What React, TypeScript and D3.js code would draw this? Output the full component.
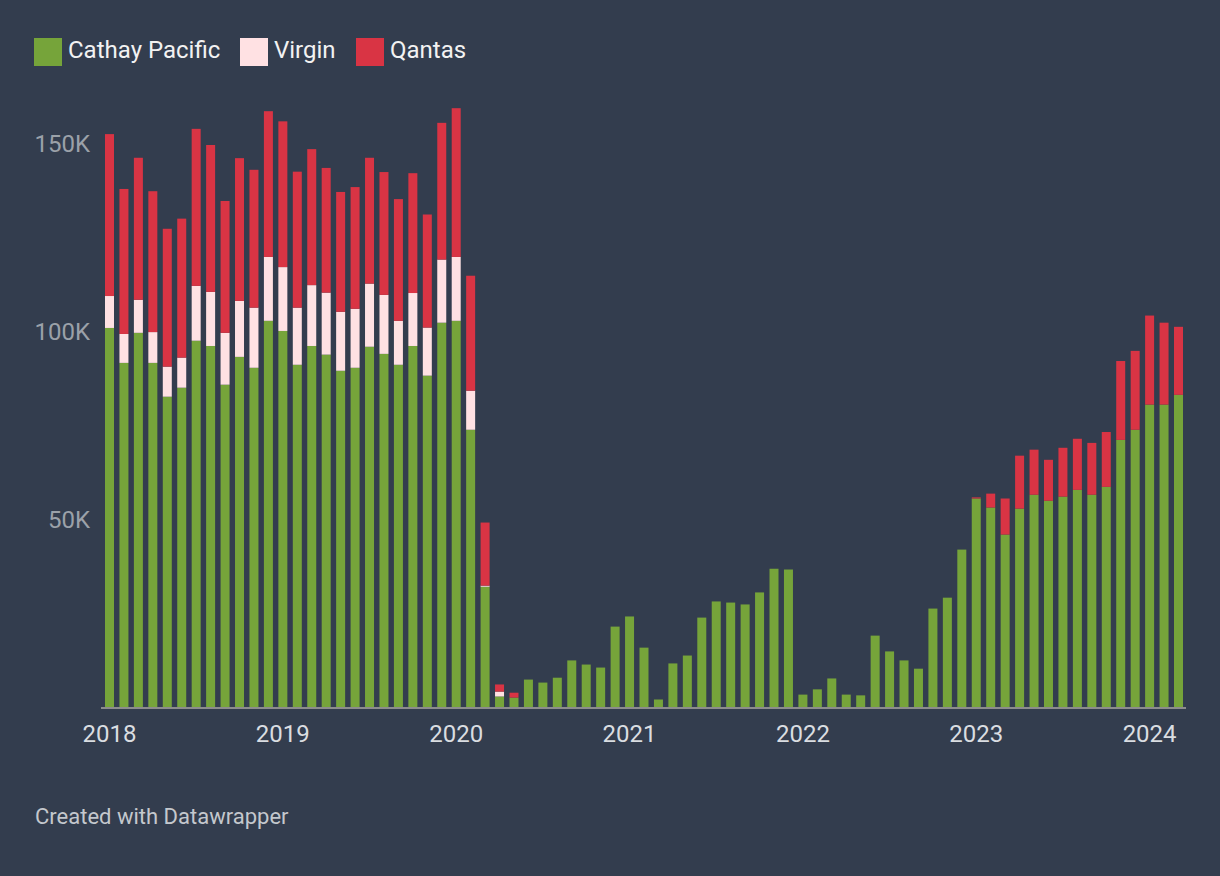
import React, { useEffect } from "react";
import * as d3 from "d3";

const months: string[] = [];
for (let y = 2018; y <= 2024; y++) {
  for (let m = 1; m <= 12; m++) {
    if (y === 2024 && m > 3) break;
    months.push(`${y}-${String(m).padStart(2, "0")}`);
  }
}

const cathay = [
  100.9, 91.6, 99.6, 91.6, 82.6, 85.0, 97.5, 96.1, 85.8, 93.2, 90.3, 102.8,
  100.1, 91.1, 96.1, 93.8, 89.5, 90.3, 95.9, 94.0, 91.1, 96.1, 88.2, 102.3,
  102.8, 73.8, 32.0, 2.8, 2.5, 7.3, 6.5, 7.8, 12.4, 11.3, 10.5, 21.4,
  24.1, 15.8, 2.0, 11.6, 13.7, 23.8, 28.1, 27.8, 27.3, 30.5, 36.8, 36.6,
  3.3, 4.7, 7.6, 3.3, 3.1, 19.0, 14.8, 12.4, 10.2, 26.2, 29.1, 41.9,
  55.5, 53.1, 45.9, 52.8, 56.5, 54.9, 56.0, 57.8, 56.5, 58.6, 71.1, 73.8,
  80.5, 80.5, 83.1,
];
const virgin = [
  8.5, 7.7, 8.8, 8.2, 8.0, 8.0, 14.6, 14.4, 13.8, 14.9, 16.0, 17.0,
  17.0, 15.2, 16.2, 16.5, 15.7, 15.7, 16.8, 15.7, 11.7, 14.1, 12.8, 16.8,
  17.0, 10.4, 0.3, 1.3, 0, 0, 0, 0, 0, 0, 0, 0,
  0, 0, 0, 0, 0, 0, 0, 0, 0, 0, 0, 0,
  0, 0, 0, 0, 0, 0, 0, 0, 0, 0, 0, 0,
  0, 0, 0, 0, 0, 0, 0, 0, 0, 0, 0, 0,
  0, 0, 0,
];
const qantas = [
  43.1, 38.6, 37.8, 37.5, 36.7, 37.0, 41.8, 39.1, 35.1, 38.0, 36.7, 38.8,
  38.8, 36.2, 36.2, 33.2, 31.9, 32.4, 33.5, 32.7, 32.4, 31.9, 30.1, 36.4,
  39.6, 30.6, 16.8, 1.9, 1.3, 0, 0, 0, 0, 0, 0, 0,
  0, 0, 0, 0, 0, 0, 0, 0, 0, 0, 0, 0,
  0, 0, 0, 0, 0, 0, 0, 0, 0, 0, 0, 0,
  0.3, 3.7, 9.6, 14.1, 12.0, 10.9, 13.0, 13.6, 13.8, 14.6, 21.0, 21.0,
  23.7, 21.8, 18.1,
];

const seriesNames = ["Cathay Pacific", "Virgin", "Qantas"];
const seriesColors = ["#76a43a", "#ffe1e3", "#d93444"];
const yTicks = [50000, 100000, 150000];
const yearLabels = ["2018", "2019", "2020", "2021", "2022", "2023", "2024"];

const W = 1220;
const H = 876;
const BG = "#333d4e";
const FONT = "Roboto, 'Noto Sans', sans-serif";

export default function App() {
  useEffect(() => {
    document.body.style.margin = "0";
    document.body.style.background = BG;
  }, []);

  const rows = months.map((m, i) => ({
    month: m,
    "Cathay Pacific": cathay[i] * 1000,
    Virgin: virgin[i] * 1000,
    Qantas: qantas[i] * 1000,
  }));
  const stack = d3.stack<any>().keys(seriesNames)(rows);

  const x = d3
    .scaleBand<string>()
    .domain(months)
    .range([105, 1183])
    .paddingInner(0.377)
    .paddingOuter(0);
  const y = d3.scaleLinear().domain([0, 150000]).range([707, 143.5]);

  const fmt = (v: number) => `${v / 1000}K`;
  const legendX = [34, 240, 356];

  return (
    <svg width={W} height={H} style={{ display: "block", background: BG }} fontFamily={FONT}>
      <rect x={0} y={0} width={W} height={H} fill={BG} />
      {/* legend */}
      {seriesNames.map((s, i) => (
        <g key={s}>
          <rect x={legendX[i]} y={38} width={28} height={28} fill={seriesColors[i]} />
          <text x={legendX[i] + 34} y={57.5} fontSize={24} fill="#f2f2f2">
            {s}
          </text>
        </g>
      ))}
      {/* y labels */}
      {yTicks.map((t) => (
        <text
          key={t}
          x={90}
          y={y(t) + 8.5}
          textAnchor="end"
          fontSize={24}
          fill="#9ba1a9"
        >
          {fmt(t)}
        </text>
      ))}
      {/* bars */}
      {stack.map((layer, si) => (
        <g key={layer.key} fill={seriesColors[si]}>
          {layer.map((d: any, i: number) => {
            const h = y(d[0]) - y(d[1]);
            if (h <= 0) return null;
            return (
              <rect
                key={i}
                x={x(months[i])}
                y={y(d[1])}
                width={x.bandwidth()}
                height={h}
              />
            );
          })}
        </g>
      ))}
      {/* baseline */}
      <rect x={101} y={707} width={1085} height={2} fill="#8c8c8c" />
      {/* year labels */}
      {yearLabels.map((yl) => {
        const m = `${yl}-01`;
        return (
          <text
            key={yl}
            x={(x(m) as number) + x.bandwidth() / 2}
            y={742}
            textAnchor="middle"
            fontSize={24}
            fill="#dadde1"
          >
            {yl}
          </text>
        );
      })}
      <text x={35} y={824} fontSize={22} fill="#c4c8cd">
        Created with Datawrapper
      </text>
    </svg>
  );
}
